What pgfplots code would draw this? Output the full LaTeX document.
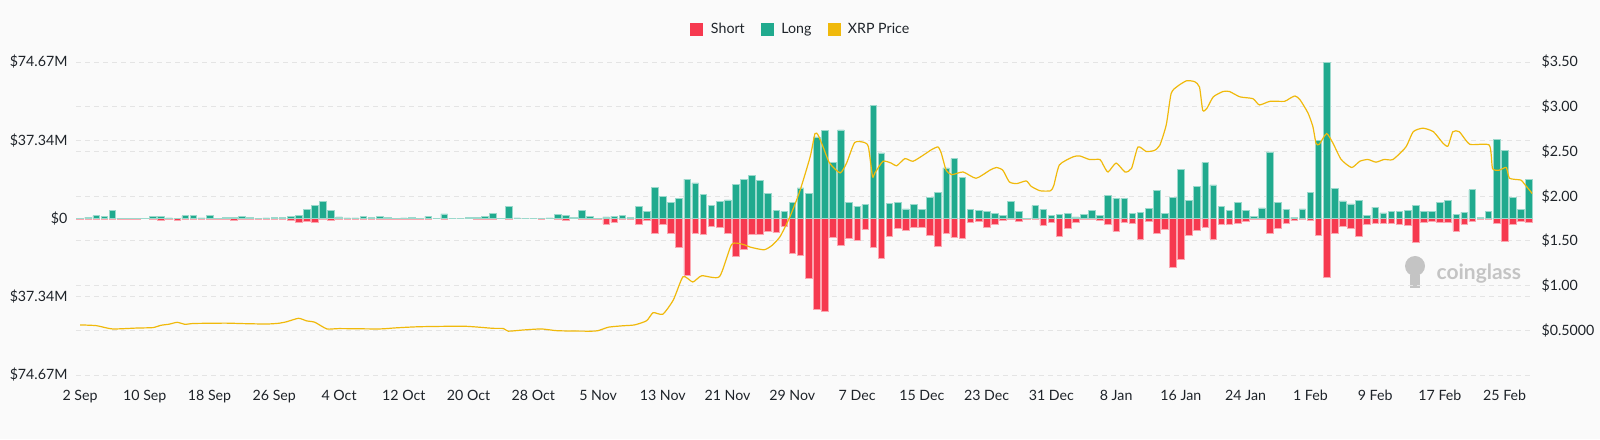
\documentclass[border=0pt]{standalone}
\usepackage{fontspec}
\setmainfont{Lato}
\usepackage{pgfplots}
\usepackage{pgfplotstable}
\pgfplotsset{compat=1.18}
\definecolor{shortc}{HTML}{F6394F}
\definecolor{longc}{HTML}{20AA8E}
\definecolor{pricec}{HTML}{F0B90B}
\definecolor{gridc}{HTML}{E4E4E4}
\definecolor{bgc}{HTML}{FAFAFA}
\definecolor{txt}{HTML}{1E2329}
\definecolor{wm}{HTML}{C4C4C4}

\pgfplotstableread{
d L S
0 0.2 -0.5
1 0.6 -0.3
2 1.4 -0.5
3 1.0 -0.4
4 3.8 -0.2
5 0.2 -0.5
6 0.1 -0.4
7 0.1 -0.5
8 0.1 -0.1
9 1.0 -0.5
10 1.0 -1.0
11 0.3 -0.5
12 0.2 -0.7
13 1.3 -0.5
14 1.3 -0.5
15 0.3 -0.5
16 1.4 -0.4
17 0.1 -0.4
18 0.5 -0.5
19 0.5 -1.1
20 1.1 -0.4
21 0.5 -0.3
22 0.2 -0.5
23 0.3 -0.3
24 0.5 -0.3
25 0.5 -0.3
26 1.1 -1.0
27 1.6 -1.9
28 4.3 -1.4
29 6.4 -1.6
30 8.3 -0.5
31 3.8 -0.8
32 0.8 -0.5
33 0.3 -0.2
34 0.3 -0.2
35 1.0 -0.5
36 0.5 -0.3
37 1.0 -0.3
38 0.7 -0.5
39 0.2 -0.3
40 0.3 -0.2
41 0.6 -0.2
42 0.1 -0.5
43 1.0 -0.5
44 0.2 -0.1
45 2.2 -0.4
46 0.2 -0.1
47 0.2 -0.1
48 0.4 -0.1
49 0.5 -0.5
50 1.0 -0.2
51 2.6 -0.2
52 0.2 -0.1
53 5.9 -0.2
54 0.3 -0.1
55 0.1 -0.1
56 0.2 -0.1
57 0.1 -0.3
58 0.3 -0.1
59 1.9 -0.2
60 1.4 -0.8
61 0.5 -0.1
62 3.7 -0.2
63 1.1 -0.5
64 0.2 -0.5
65 0.8 -2.6
66 1.1 -1.8
67 1.3 -0.5
68 0.6 -0.5
69 5.9 -2.9
70 3.2 -1.0
71 15.0 -7.2
72 10.7 -3.0
73 7.7 -7.0
74 9.4 -13.9
75 18.8 -27.0
76 17.0 -6.9
77 11.5 -7.4
78 6.2 -3.5
79 8.1 -4.3
80 8.9 -6.9
81 16.1 -17.9
82 18.5 -14.7
83 20.6 -7.7
84 18.3 -7.5
85 12.1 -6.2
86 3.8 -6.7
87 3.3 -3.6
88 7.6 -16.7
89 14.6 -17.5
90 12.0 -28.7
91 38.9 -43.1
92 42.1 -44.4
93 26.7 -9.1
94 42.3 -12.9
95 7.7 -9.4
96 5.9 -10.2
97 6.6 -5.3
98 53.8 -13.7
99 31.3 -19.0
100 7.2 -8.5
101 7.5 -4.5
102 4.6 -5.4
103 6.9 -4.2
104 4.2 -4.3
105 10.2 -7.8
106 12.4 -13.4
107 24.1 -7.0
108 28.6 -9.1
109 19.6 -9.4
110 4.2 -1.7
111 3.8 -1.2
112 3.4 -4.3
113 2.6 -3.0
114 1.3 -1.1
115 8.3 -0.3
116 3.2 -1.3
117 0.2 -0.6
118 6.1 -0.3
119 4.3 -3.2
120 1.4 -1.6
121 1.9 -8.5
122 2.6 -4.6
123 0.8 -1.6
124 2.1 -0.6
125 3.7 -0.6
126 1.6 -1.1
127 10.9 -2.6
128 9.7 -6.2
129 9.6 -1.9
130 2.4 -2.4
131 3.0 -10.1
132 4.8 -1.3
133 13.5 -7.0
134 2.4 -5.2
135 10.2 -23.3
136 23.4 -19.7
137 8.6 -8.0
138 15.3 -5.7
139 26.7 -4.0
140 16.0 -9.7
141 5.6 -2.9
142 3.8 -2.7
143 7.5 -2.2
144 3.7 -1.3
145 1.0 -0.6
146 5.1 -0.3
147 31.8 -7.0
148 7.8 -4.8
149 4.5 -2.2
150 0.6 -1.0
151 4.6 -0.3
152 12.4 -1.0
153 37.3 -7.8
154 74.6 -28.1
155 14.2 -7.2
156 8.4 -3.6
157 7.0 -4.7
158 8.6 -8.6
159 1.6 -2.9
160 5.4 -2.2
161 2.7 -2.1
162 3.4 -2.2
163 3.4 -2.7
164 4.0 -3.2
165 6.4 -11.5
166 3.5 -1.6
167 3.4 -1.3
168 7.7 -1.8
169 8.8 -1.6
170 1.8 -5.9
171 2.9 -2.6
172 13.7 -1.4
173 0.6 -0.3
174 3.2 -0.3
175 37.7 -2.2
176 32.4 -10.9
177 9.9 -2.6
178 4.5 -1.4
179 18.7 -1.6
}\bars

\pgfplotstableread{
d P
0 0.56
2 0.552
4 0.515
7 0.525
9 0.53
10 0.556
11 0.568
12 0.589
13 0.566
14 0.576
18 0.58
20 0.575
23 0.57
24.5 0.578
25.5 0.595
27 0.634
28 0.605
29 0.59
30.5 0.515
32 0.519
37 0.515
39 0.527
42 0.54
47.5 0.545
51 0.522
52.3 0.52
52.9 0.49
54.7 0.503
57 0.515
59 0.495
63 0.49
64 0.496
65.3 0.535
67 0.55
68.5 0.56
70 0.607
70.8 0.697
72 0.68
73.3 0.84
74.5 1.10
75.7 1.04
76.8 1.11
79 1.10
80.5 1.46
81.9 1.46
82.8 1.43
84.5 1.40
85.5 1.45
86.5 1.55
87.7 1.77
88.9 2.05
90.2 2.44
90.8 2.70
91.2 2.68
91.8 2.55
92.6 2.37
93.9 2.26
94.7 2.37
95.7 2.60
96.9 2.60
97.4 2.55
97.9 2.22
98.2 2.26
99.2 2.39
100.2 2.37
100.9 2.34
101.9 2.42
102.9 2.39
104.2 2.46
105.2 2.52
106 2.55
106.4 2.48
107 2.29
107.7 2.24
109.1 2.27
110.7 2.20
112.4 2.29
113.2 2.32
114 2.29
114.8 2.16
115.7 2.14
116.9 2.17
117.5 2.11
118.6 2.06
119.9 2.06
120.3 2.12
121 2.35
122.7 2.44
123.5 2.45
124.7 2.41
126 2.41
126.4 2.35
127 2.27
128 2.37
129.1 2.27
129.9 2.31
130.7 2.55
131.7 2.50
132.7 2.51
133.4 2.57
134.2 2.80
134.8 3.15
135.6 3.23
136.7 3.29
137.7 3.28
138.3 3.22
138.7 2.96
139.2 2.98
140 3.11
141.2 3.17
142 3.17
143.3 3.11
144.9 3.09
145.7 3.02
147 3.06
148.8 3.06
149.4 3.09
150.1 3.12
150.7 3.08
151.7 2.93
152.3 2.78
152.7 2.59
153.1 2.58
154 2.70
154.8 2.59
155.8 2.41
157.1 2.32
158.1 2.39
159.1 2.41
160.1 2.38
161.1 2.41
162.2 2.41
163.8 2.55
164.7 2.72
165.9 2.76
167.2 2.72
168.4 2.59
169 2.56
169.6 2.72
170.4 2.72
171.7 2.58
174.1 2.57
174.5 2.31
175.3 2.29
176.2 2.32
176.6 2.20
178 2.18
178.4 2.14
179.4 2.03
}\price

\begin{document}
\begin{tikzpicture}[x=1pt,y=1pt]
\fill[bgc] (0,0) rectangle (1600,439);
\path[use as bounding box] (0,0) rectangle (1600,439);
% watermark
\node[text=wm, font=\bfseries\fontsize{21}{21}\selectfont, anchor=west] at (1433,165) {coinglass};
\fill[wm] (1415,173) circle (10);
\fill[wm] (1410,164) rectangle (1420,151);
\begin{axis}[
  at={(76pt,64pt)}, anchor=south west, scale only axis,
  width=1457pt, height=313pt,
  xmin=-0.5, xmax=179.5, ymin=-74.67, ymax=74.67,
  ytick={-74.67,-37.34,0,37.34,74.67},
  yticklabels={\$74.67M,\$37.34M,\$0,\$37.34M,\$74.67M},
  extra y ticks={-53.336,-32.003,-10.67,10.663,31.996,53.33},
  extra y tick labels={},
  ymajorgrids,
  extra y tick style={grid=major},
  grid style={gridc, dash pattern=on 5pt off 4pt, line width=0.8pt},
  xtick={0,8,...,176},
  xticklabels={2 Sep,10 Sep,18 Sep,26 Sep,4 Oct,12 Oct,20 Oct,28 Oct,5 Nov,13 Nov,21 Nov,29 Nov,7 Dec,15 Dec,23 Dec,31 Dec,8 Jan,16 Jan,24 Jan,1 Feb,9 Feb,17 Feb,25 Feb},
  axis line style={draw=none},
  major tick length=0pt,
  tick label style={font=\fontsize{14.2}{15}\selectfont, text=txt},
  yticklabel style={xshift=-5pt},
  xticklabel style={yshift=-12pt},
  legend columns=3,
  legend style={at={(0.4975,1.105)}, anchor=center, draw=none, fill=none,
    font=\fontsize{14.2}{15}\selectfont, text=txt,
    /tikz/every odd column/.append style={column sep=6pt},
    /tikz/every even column/.append style={column sep=14pt}},
]
\addplot[ybar, bar width=6.6pt, /pgf/bar shift=0pt, fill=shortc, draw=shortc!45!white, line width=0.6pt,
  legend image code/.code={\fill[shortc] (0pt,-6pt) rectangle (12pt,6pt);}]
  table[x=d, y=S]{\bars};
\addlegendentry{Short}
\addplot[ybar, bar width=6.6pt, /pgf/bar shift=0pt, fill=longc, draw=longc!45!white, line width=0.6pt,
  legend image code/.code={\fill[longc] (0pt,-6pt) rectangle (12pt,6pt);}]
  table[x=d, y=L]{\bars};
\addlegendentry{Long}
\addlegendimage{legend image code/.code={\fill[pricec] (0pt,-6pt) rectangle (12pt,6pt);}}
\addlegendentry{XRP Price}
\end{axis}
\begin{axis}[
  at={(76pt,64pt)}, anchor=south west, scale only axis,
  width=1457pt, height=313pt,
  xmin=-0.5, xmax=179.5, ymin=0, ymax=3.5,
  axis y line*=right, axis x line=none,
  axis line style={draw=none},
  major tick length=0pt,
  ytick={0.5,1,1.5,2,2.5,3,3.5},
  yticklabels={\$0.5000,\$1.00,\$1.50,\$2.00,\$2.50,\$3.00,\$3.50},
  tick label style={font=\fontsize{14.2}{15}\selectfont, text=txt},
  yticklabel style={xshift=5pt, anchor=west},
]
\addplot[pricec, line width=1.2pt, no marks, smooth, tension=0.35] table[x=d, y=P]{\price};
\end{axis}
\end{tikzpicture}
\end{document}
